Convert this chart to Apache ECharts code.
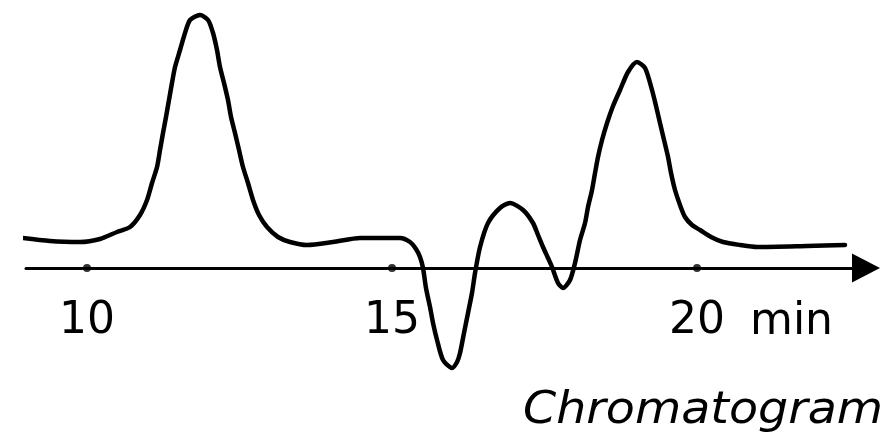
<!DOCTYPE html>
<html>
<head>
<meta charset="utf-8">
<script src="https://cdn.jsdelivr.net/npm/echarts@6/dist/echarts.min.js"></script>
<style>
html,body{margin:0;padding:0;background:#fff;}
#chart{width:892px;height:438px;}
</style>
</head>
<body>
<div id="chart"></div>
<script>
// Retention time (min)
const times = [8.820, 9.393, 9.885, 10.213, 10.492, 10.705, 10.869, 10.984, 11.066, 11.148,
  11.197, 11.246, 11.295, 11.344, 11.393, 11.443, 11.525, 11.607, 11.689, 11.852, 11.984,
  12.066, 12.131, 12.180, 12.246, 12.311, 12.361, 12.426, 12.492, 12.557, 12.639, 12.721,
  12.820, 12.951, 13.131, 13.328, 13.607, 14.033, 14.475, 14.967, 15.131, 15.295, 15.393,
  15.459, 15.508, 15.557, 15.623, 15.672, 15.738, 15.836, 15.984, 16.066, 16.115, 16.180,
  16.246, 16.311, 16.361, 16.443, 16.574, 16.770, 16.934, 17.148, 17.311, 17.393, 17.475,
  17.557, 17.623, 17.721, 17.803, 17.918, 18.000, 18.082, 18.164, 18.213, 18.279, 18.328,
  18.377, 18.443, 18.525, 18.623, 18.738, 18.869, 19.016, 19.148, 19.262, 19.328, 19.393,
  19.459, 19.525, 19.574, 19.639, 19.721, 19.803, 19.918, 20.049, 20.230, 20.426, 20.705,
  20.984, 21.803, 22.426];
// Detector signal (arbitrary units)
const signal = [31, 27, 26, 29, 36, 41, 53, 68, 85, 101,
  118, 135, 151, 168, 185, 201, 218, 235, 248, 253, 248,
  235, 218, 201, 185, 168, 151, 135, 118, 101, 85, 68,
  53, 41, 31, 26, 23, 26, 30, 30, 30, 26, 19,
  11, 0, -20, -39, -55, -72, -92, -100, -94, -85, -65,
  -45, -25, -5, 21, 45, 60, 65, 58, 45, 33, 21,
  10, 1, -15, -20, -12, 5, 28, 45, 61, 78, 95,
  111, 128, 145, 162, 178, 196, 206, 200, 178, 162, 145,
  128, 111, 95, 78, 63, 51, 43, 38, 31, 26, 23,
  21, 22, 23];
const tickValues = [10, 15, 20];
const unitLabel = 'min';
const caption = 'Chromatogram';

const chart = echarts.init(document.getElementById('chart'), null, {renderer: 'canvas'});
const FONT = 'DejaVu Sans';
const option = {
  backgroundColor: '#ffffff',
  animation: false,
  grid: {left: 26, right: 26, top: 0, bottom: 0, containLabel: false, outerBoundsMode: 'none'},
  xAxis: {
    type: 'value', min: 9, max: 22.77,
    position: 'bottom', offset: -170,
    splitLine: {show: false},
    axisLine: {show: true, onZero: false, symbol: ['none', 'triangle'], symbolSize: [29, 28],
      lineStyle: {color: '#000', width: 3}},
    axisTick: {show: false},
    axisLabel: {
      customValues: tickValues, margin: 32, color: '#000',
      fontFamily: FONT, fontSize: 44,
      formatter: v => String(v)
    }
  },
  yAxis: {type: 'value', min: -170, max: 268, show: false},
  series: [
    {
      type: 'line', data: times.map((t, i) => [t, signal[i]]),
      smooth: 0.25, showSymbol: false, clip: false,
      lineStyle: {color: '#000', width: 4.5, join: 'round', cap: 'round'}
    },
    {
      type: 'scatter', data: tickValues.map(v => [v, 0]),
      symbol: 'circle', symbolSize: 8, itemStyle: {color: '#000'}
    }
  ]
};
chart.setOption(option);
const px20 = chart.convertToPixel({xAxisIndex: 0, yAxisIndex: 0}, [20, 0]);
chart.setOption({
  graphic: [
    {type: 'text', left: px20[0] + 53, top: 301,
      style: {text: unitLabel, font: '44px "DejaVu Sans"', fill: '#000'}},
    {type: 'text', left: 523, top: 390, scaleX: 1.08,
      style: {text: caption, font: 'italic 44px "DejaVu Sans"', fill: '#000'}}
  ]
});
</script>
</body>
</html>
